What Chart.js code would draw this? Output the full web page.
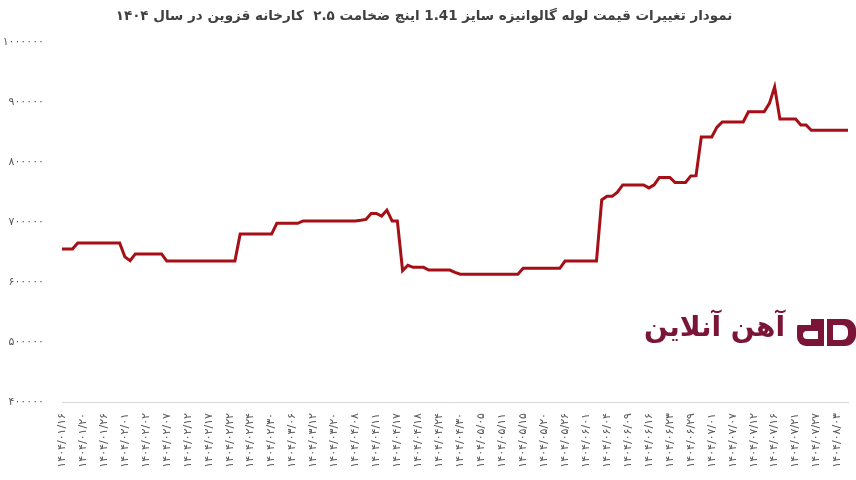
<!DOCTYPE html>
<html lang="fa">
<head>
<meta charset="utf-8">
<script src="https://cdn.jsdelivr.net/npm/chart.js@4.4.1/dist/chart.umd.min.js"></script>
<style>
  html, body { margin: 0; padding: 0; background: #fff; }
  #wrap { width: 856px; height: 480px; position: relative; }
</style>
</head>
<body>
<div id="wrap"><canvas id="chart"></canvas></div>
<script>
// عنوان و برند
const chartTitle = "نمودار تغییرات قیمت لوله گالوانیزه سایز 1.41 اینچ ضخامت ۲.۵  کارخانه قزوین در سال ۱۴۰۴";
const brandName = "آهن آنلاین";

// برچسب‌های محور افقی (هر ۴ نقطه یک برچسب)
const tickLabels = [
  "۱۴۰۴/۰۱/۱۶", "۱۴۰۴/۰۱/۲۰", "۱۴۰۴/۰۱/۲۶", "۱۴۰۴/۰۲/۰۱", "۱۴۰۴/۰۲/۰۲",
  "۱۴۰۴/۰۲/۰۷", "۱۴۰۴/۰۲/۱۲", "۱۴۰۴/۰۲/۱۷", "۱۴۰۴/۰۲/۲۲", "۱۴۰۴/۰۲/۲۴",
  "۱۴۰۴/۰۲/۳۰", "۱۴۰۴/۰۳/۰۶", "۱۴۰۴/۰۳/۱۲", "۱۴۰۴/۰۳/۲۰", "۱۴۰۴/۰۴/۰۸",
  "۱۴۰۴/۰۴/۱۱", "۱۴۰۴/۰۴/۱۷", "۱۴۰۴/۰۴/۱۸", "۱۴۰۴/۰۴/۲۴", "۱۴۰۴/۰۴/۳۰",
  "۱۴۰۴/۰۵/۰۵", "۱۴۰۴/۰۵/۱۱", "۱۴۰۴/۰۵/۱۵", "۱۴۰۴/۰۵/۲۰", "۱۴۰۴/۰۵/۲۶",
  "۱۴۰۴/۰۶/۰۱", "۱۴۰۴/۰۶/۰۴", "۱۴۰۴/۰۶/۰۹", "۱۴۰۴/۰۶/۱۶", "۱۴۰۴/۰۶/۲۳",
  "۱۴۰۴/۰۶/۲۹", "۱۴۰۴/۰۷/۰۱", "۱۴۰۴/۰۷/۰۷", "۱۴۰۴/۰۷/۱۲", "۱۴۰۴/۰۷/۱۶",
  "۱۴۰۴/۰۷/۲۱", "۱۴۰۴/۰۷/۲۷", "۱۴۰۴/۰۸/۰۳"
];

// قیمت (ریال) - خوانده شده از نمودار
const prices = [
  655000, 655000, 655000, 665000, 665000, 665000, 665000, 665000, 665000, 665000,
  665000, 665000, 642000, 635500, 647000, 647000, 647000, 647000, 647000, 647000,
  635000, 635000, 635000, 635000, 635000, 635000, 635000, 635000, 635000, 635000,
  635000, 635000, 635000, 635000, 680000, 680000, 680000, 680000, 680000, 680000,
  680000, 698000, 698000, 698000, 698000, 698000, 702000, 702000, 702000, 702000,
  702000, 702000, 702000, 702000, 702000, 702000, 702000, 703000, 704500, 714500,
  714500, 710000, 720000, 702000, 702000, 619000, 628000, 624500, 624500, 624500,
  620000, 620000, 620000, 620000, 620000, 616000, 613000, 613000, 613000, 613000,
  613000, 613000, 613000, 613000, 613000, 613000, 613000, 613000, 623000, 623000,
  623000, 623000, 623000, 623000, 623000, 623000, 635000, 635000, 635000, 635000,
  635000, 635000, 635000, 737000, 743000, 743000, 750000, 762000, 762000, 762000,
  762000, 762000, 757000, 762000, 774500, 774500, 774500, 766000, 766000, 766000,
  777000, 777500, 842000, 842000, 842000, 858500, 867000, 867000, 867000, 867000,
  867000, 884000, 884000, 884000, 884000, 898000, 925500, 872000, 872000, 872000,
  872000, 862000, 862000, 853000, 853000, 853000, 853000, 853000, 853000, 853000,
  853000
];

const yMin = 400000;
const yMax = 1000000;
const yStep = 100000;

// تبدیل اعداد به ارقام فارسی
function toFa(n) {
  return String(n).replace(/\d/g, d => "۰۱۲۳۴۵۶۷۸۹"[d]);
}

// هر نقطه یک برچسب دارد، فقط هر چهارمی نمایش داده می‌شود
const labels = prices.map((p, i) => (i % 4 === 0 && tickLabels[i / 4]) || "");

// لوگوی آهن آنلاین به صورت واترمارک
const watermark = {
  id: "watermark",
  afterDraw(chart) {
    const ctx = chart.ctx;
    ctx.save();
    ctx.fillStyle = "#7b1538";
    ctx.font = 'bold 28px "DejaVu Sans"';
    ctx.direction = "rtl";
    ctx.textAlign = "right";
    ctx.textBaseline = "middle";
    ctx.fillText(brandName, 785, 329);

    // حرف a
    ctx.beginPath();
    ctx.roundRect(797, 319, 27, 27, [9, 0, 0, 9]);
    ctx.fill();
    // حرف D
    ctx.beginPath();
    ctx.roundRect(827, 319, 29, 27, [0, 11, 11, 0]);
    ctx.fill();

    ctx.fillStyle = "#fff";
    ctx.fillRect(797, 319, 14, 6);
    ctx.beginPath();
    ctx.roundRect(803, 331, 15, 8, [4, 0, 0, 4]);
    ctx.fill();
    ctx.beginPath();
    ctx.roundRect(833, 325, 15, 15, [0, 6, 6, 0]);
    ctx.fill();
    ctx.restore();
  }
};

const ctx = document.getElementById("chart");
new Chart(ctx, {
  type: "line",
  data: {
    labels: labels,
    datasets: [{
      label: "قیمت",
      data: prices,
      borderColor: "#a50f15",
      borderWidth: 3,
      pointRadius: 0,
      tension: 0,
      fill: false
    }]
  },
  options: {
    responsive: true,
    maintainAspectRatio: false,
    animation: false,
    layout: { padding: { left: 0, right: 8, top: 0, bottom: 0 } },
    plugins: {
      legend: { display: false },
      tooltip: { enabled: false },
      title: {
        display: true,
        text: chartTitle,
        color: "#404040",
        font: { family: "DejaVu Sans", size: 13.5, weight: "bold" },
        padding: { top: 8, bottom: 18 }
      }
    },
    scales: {
      x: {
        grid: { display: false },
        border: { display: true, color: "#d9d9d9" },
        ticks: {
          autoSkip: false,
          minRotation: 90,
          maxRotation: 90,
          color: "#595959",
          font: { family: "DejaVu Sans", size: 11 },
          padding: 3
        },
        afterFit: s => {
          s.height = 78;
          s.paddingLeft = 0;
          s.paddingRight = 0;
        }
      },
      y: {
        min: yMin,
        max: yMax,
        grid: { display: false },
        border: { display: false },
        ticks: {
          stepSize: yStep,
          color: "#595959",
          font: { family: "DejaVu Sans", size: 11 },
          padding: 10,
          callback: v => toFa(v)
        },
        afterFit: s => { s.width = 62; }
      }
    }
  },
  plugins: [watermark]
});
</script>
</body>
</html>
